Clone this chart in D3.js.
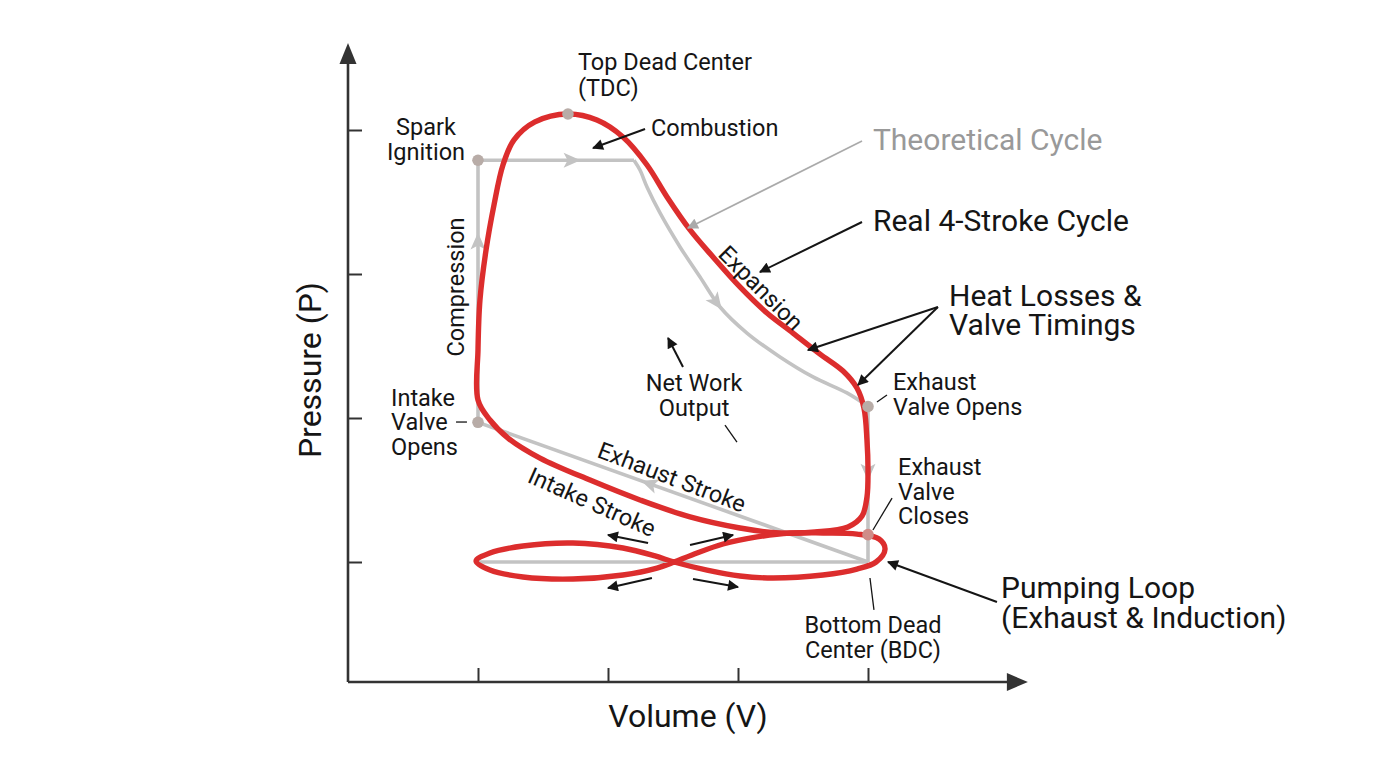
<!DOCTYPE html>
<html><head><meta charset="utf-8">
<script src="https://cdn.jsdelivr.net/npm/d3@7"></script>
<style>body{margin:0;background:#fff}svg{display:block;font-family:Roboto,"Noto Sans",sans-serif}</style>
</head><body><svg id="c" width="1376" height="768"></svg>
<script>
// ---------- data (volume v, pressure p; arbitrary units) ----------
const volumeTicks = [1, 2, 3, 4];
const pressureTicks = [1, 2, 3, 4];
const axisVolumeRange = [0, 5.23];
const axisPressureRange = [0.1667, 4.604];

// theoretical (idealised) cycle segments
const theoCompression = [[1, 1.97], [1, 3.79]];
const theoCombustion = [[1, 3.79], [2.2, 3.79]];
const theoExpansion = [[2.2, 3.79], [2.246, 3.722], [2.3, 3.604], [2.4, 3.424], [2.554, 3.188], [2.708, 2.979],
  [2.862, 2.771], [3.069, 2.59], [3.323, 2.424], [3.577, 2.285], [3.838, 2.174], [4.0, 2.08]];
const theoBlowdown = [[4, 2.08], [4, 1]];
const theoExhaust = [[4, 1], [1, 1.97]];
const theoIntake = [[1, 1], [4, 1]];

// real 4-stroke cycle (main loop, clockwise)
const realMain = [[1.0, 2.125], [1.0, 2.472], [1.015, 2.819], [1.062, 3.167], [1.123, 3.479], [1.192, 3.757],
  [1.277, 3.931], [1.438, 4.056], [1.692, 4.111], [1.915, 4.069], [2.115, 3.951], [2.3, 3.757], [2.454, 3.535],
  [2.631, 3.306], [2.808, 3.118], [3.015, 2.91], [3.223, 2.729], [3.423, 2.59], [3.631, 2.444], [3.808, 2.326],
  [3.915, 2.208], [3.969, 2.069], [3.992, 1.847], [4.0, 1.639], [3.992, 1.451], [3.954, 1.319], [3.846, 1.243],
  [3.592, 1.208], [3.323, 1.201], [3.015, 1.236], [2.631, 1.313], [2.246, 1.431], [1.862, 1.569], [1.477, 1.722],
  [1.231, 1.861], [1.092, 1.986]];

// pumping loop (figure of eight)
const realPumping = [[0.985, 1.007], [1.092, 1.0625], [1.346, 1.111], [1.731, 1.132], [2.115, 1.097], [2.362, 1.042],
  [2.508, 1.0], [2.762, 0.944], [3.015, 0.903], [3.269, 0.889], [3.654, 0.91], [3.915, 0.951], [4.062, 1.0],
  [4.131, 1.09], [4.085, 1.16], [3.915, 1.194], [3.654, 1.201], [3.4, 1.201], [3.146, 1.174], [2.885, 1.125],
  [2.646, 1.049], [2.508, 1.0], [2.377, 0.958], [2.115, 0.91], [1.731, 0.882], [1.346, 0.896], [1.092, 0.944]];

// key state points
const keyPointNames = ["TDC", "Spark Ignition", "Intake Valve Opens", "Exhaust Valve Opens", "Exhaust Valve Closes"];
const keyPointV = [1.692, 1, 1, 4, 4];
const keyPointP = [4.111, 3.79, 1.97, 2.08, 1.19];

// ---------- drawing ----------
const svg = d3.select("#c");
const x = d3.scaleLinear().domain([0, 4]).range([348, 868]);
const y = d3.scaleLinear().domain([1, 4]).range([562, 130]);
const AX = "#333", GRAY = "#c3c3c3", RED = "#dc2d2d", INK = "#151515";

const defs = svg.append("defs");
function marker(id, color, w, h) {
  defs.append("marker").attr("id", id).attr("viewBox", "0 -5 10 10").attr("refX", 9).attr("refY", 0)
    .attr("markerWidth", w).attr("markerHeight", h).attr("orient", "auto").attr("markerUnits", "userSpaceOnUse")
    .append("path").attr("d", "M0,-5L10,0L0,5Z").attr("fill", color);
}
marker("ah", INK, 13, 11);
marker("ahg", "#aaa", 13, 11);

// axes
const x0 = x(axisVolumeRange[0]), x1 = x(axisVolumeRange[1]);
const y0 = y(axisPressureRange[0]), y1 = y(axisPressureRange[1]);
svg.append("g").attr("transform", `translate(0,${y0})`)
  .call(d3.axisBottom(x).tickValues(volumeTicks).tickSize(-14).tickFormat(""))
  .call(g => { g.select(".domain").remove(); g.selectAll("line").attr("stroke", AX).attr("stroke-width", 2); });
svg.append("g").attr("transform", `translate(${x0},0)`)
  .call(d3.axisLeft(y).tickValues(pressureTicks).tickSize(-14).tickFormat(""))
  .call(g => { g.select(".domain").remove(); g.selectAll("line").attr("stroke", AX).attr("stroke-width", 2); });
svg.append("path").attr("d", `M${x0},${y0}H${x1 - 16}M${x0},${y0}V${y1 + 16}`)
  .attr("stroke", AX).attr("stroke-width", 2.6).attr("fill", "none");
svg.append("path").attr("d", `M${x1},${y0}L${x1 - 21},${y0 - 9}L${x1 - 21},${y0 + 9}Z`).attr("fill", AX);
svg.append("path").attr("d", `M${x0},${y1}L${x0 - 8.5},${y1 + 21}L${x0 + 8.5},${y1 + 21}Z`).attr("fill", AX);

// theoretical cycle
const lin = d3.line().x(d => x(d[0])).y(d => y(d[1]));
const smooth = d3.line().x(d => x(d[0])).y(d => y(d[1])).curve(d3.curveCatmullRom.alpha(0.5));
const gTheo = svg.append("g").attr("fill", "none").attr("stroke", GRAY).attr("stroke-width", 3.6)
  .attr("stroke-linejoin", "round");
const segs = {
  compression: gTheo.append("path").attr("d", lin(theoCompression)),
  combustion: gTheo.append("path").attr("d", lin(theoCombustion)),
  expansion: gTheo.append("path").attr("d", smooth(theoExpansion)),
  blowdown: gTheo.append("path").attr("d", lin(theoBlowdown)),
  exhaust: gTheo.append("path").attr("d", lin(theoExhaust)),
  intake: gTheo.append("path").attr("d", lin(theoIntake))
};
// direction arrows on theoretical cycle
[["compression", 0.69], ["combustion", 0.6], ["expansion", 0.47], ["blowdown", 0.42], ["exhaust", 0.56]].forEach(([k, t]) => {
  const n = segs[k].node(), L = n.getTotalLength();
  const a = n.getPointAtLength(L * t), b = n.getPointAtLength(L * t + 1);
  const ang = Math.atan2(b.y - a.y, b.x - a.x) * 180 / Math.PI;
  svg.append("path").attr("d", "M9,0L-8,-7.5L-4,0L-8,7.5Z").attr("fill", GRAY)
    .attr("transform", `translate(${a.x},${a.y}) rotate(${ang})`);
});

// real cycle
const closed = d3.line().x(d => x(d[0])).y(d => y(d[1])).curve(d3.curveCatmullRomClosed.alpha(0.5));
const gReal = svg.append("g").attr("fill", "none").attr("stroke", RED).attr("stroke-width", 5.4)
  .attr("stroke-linejoin", "round");
gReal.append("path").attr("d", closed(realMain));
gReal.append("path").attr("d", closed(realPumping));

// key points
svg.selectAll("circle.kp").data(keyPointV).join("circle").attr("class", "kp")
  .attr("cx", d => x(d)).attr("cy", (d, i) => y(keyPointP[i])).attr("r", 5.8)
  .attr("fill", (d, i) => i === 4 ? "#cf8c88" : "#b8aca7");

// annotation lines / arrows
const arrows = [
  [[2.285, 4.007], [1.885, 3.875], 1],
  [[3.954, 3.361], [3.169, 3.014], 1],
  [[4.538, 2.771], [3.538, 2.472], 1],
  [[4.538, 2.771], [3.923, 2.229], 1],
  [[2.577, 2.354], [2.462, 2.556], 1],
  [[2.9, 1.951], [2.992, 1.833], 0],
  [[0.831, 1.972], [0.915, 1.972], 0],
  [[4.069, 2.111], [4.146, 2.16], 0],
  [[4.038, 1.222], [4.185, 1.444], 0],
  [[4.992, 0.722], [4.154, 1.0], 1],
  [[4.015, 0.889], [4.046, 0.667], 0],
  [[2.308, 1.132], [2.0, 1.188], 1],
  [[2.631, 1.118], [2.962, 1.188], 1],
  [[2.338, 0.889], [2.0, 0.819], 1],
  [[2.654, 0.882], [3.0, 0.826], 1]
];
arrows.forEach(([a, b, head]) => {
  svg.append("line").attr("x1", x(a[0])).attr("y1", y(a[1])).attr("x2", x(b[0])).attr("y2", y(b[1]))
    .attr("stroke", INK).attr("stroke-width", head ? 2 : 1.3)
    .attr("marker-end", head ? "url(#ah)" : null);
});
svg.append("line").attr("x1", x(3.954)).attr("y1", y(3.924)).attr("x2", x(2.615)).attr("y2", y(3.319))
  .attr("stroke", "#aaa").attr("stroke-width", 1.6).attr("marker-end", "url(#ahg)");

// labels
const S = 23.5, B = 30;
const labels = [
  ["Top Dead Center", 1.769, 4.472, "start", S],
  ["(TDC)", 1.769, 4.292, "start", S],
  ["Spark", 0.6, 4.021, "middle", S],
  ["Ignition", 0.6, 3.847, "middle", S],
  ["Combustion", 2.331, 4.014, "start", S],
  ["Theoretical Cycle", 4.038, 3.931, "start", B, 0, "#999"],
  ["Real 4-Stroke Cycle", 4.038, 3.375, "start", B],
  ["Heat Losses &", 4.623, 2.854, "start", B],
  ["Valve Timings", 4.623, 2.646, "start", B],
  ["Expansion", 3.177, 2.903, "middle", S, 45],
  ["Compression", 0.831, 2.91, "middle", S, -90],
  ["Net Work", 2.662, 2.243, "middle", S],
  ["Output", 2.662, 2.069, "middle", S],
  ["Intake", 0.331, 2.139, "start", S],
  ["Valve", 0.331, 1.972, "start", S],
  ["Opens", 0.331, 1.799, "start", S],
  ["Exhaust", 4.192, 2.25, "start", S],
  ["Valve Opens", 4.192, 2.076, "start", S],
  ["Exhaust", 4.231, 1.66, "start", S],
  ["Valve", 4.231, 1.486, "start", S],
  ["Closes", 4.231, 1.319, "start", S],
  ["Exhaust Stroke", 2.492, 1.59, "middle", S, 21],
  ["Intake Stroke", 1.877, 1.417, "middle", S, 24],
  ["Pumping Loop", 5.023, 0.826, "start", B],
  ["(Exhaust & Induction)", 5.023, 0.618, "start", B],
  ["Bottom Dead", 4.038, 0.5625, "middle", S],
  ["Center (BDC)", 4.038, 0.389, "middle", S],
  ["Pressure (P)", -0.292, 2.333, "middle", 32, -90],
  ["Volume (V)", 2.615, -0.069, "middle", 32]
];
labels.forEach(([t, v, p, anchor, size, rot, col]) => {
  svg.append("text").text(t).attr("text-anchor", anchor).attr("font-size", size).attr("dy", "0.35em")
    .attr("fill", col || INK)
    .attr("transform", `translate(${x(v)},${y(p)}) rotate(${rot || 0})`);
});
</script></body></html>
